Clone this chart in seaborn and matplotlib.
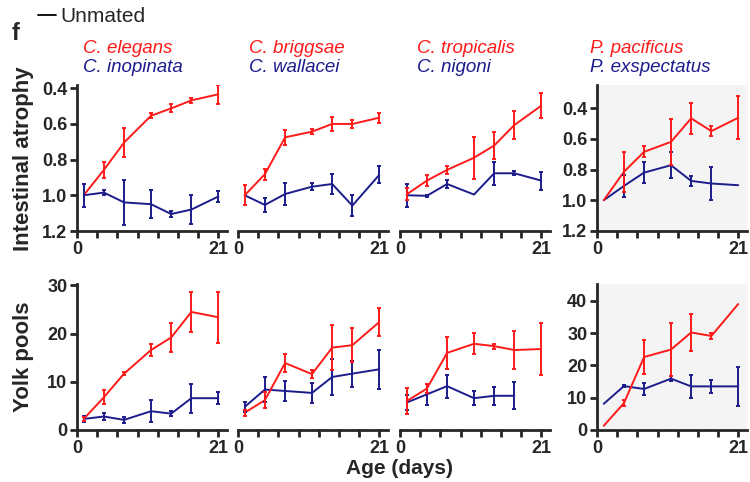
"""Unmated time course: intestinal atrophy and yolk pools, 4 species pairs."""
import numpy as np
import pandas as pd

import matplotlib
matplotlib.use("Agg")
import matplotlib.pyplot as plt
import seaborn as sns

RED = "#ff1a1a"
BLUE = "#1c1c8c"

days = [1, 4, 7, 11, 14, 17, 21]

# species pairs (red, blue)
sp_red = ["C. elegans", "C. briggsae", "C. tropicalis", "P. pacificus"]
sp_blue = ["C. inopinata", "C. wallacei", "C. nigoni", "P. exspectatus"]

# intestinal atrophy, mean and sem
atr_elegans = [1.0, 0.858, 0.705, 0.555, 0.514, 0.469, 0.435]
atr_elegans_e = [0, 0.045, 0.08, 0.015, 0.022, 0.015, 0.052]
atr_inopinata = [1.0, 0.985, 1.04, 1.05, 1.105, 1.08, 1.007]
atr_inopinata_e = [0.065, 0.015, 0.128, 0.078, 0.015, 0.08, 0.031]
atr_briggsae = [1.0, 0.882, 0.676, 0.644, 0.601, 0.601, 0.566]
atr_briggsae_e = [0.056, 0.03, 0.042, 0.015, 0.04, 0.02, 0.028]
atr_wallacei = [1.0, 1.054, 0.993, 0.952, 0.937, 1.058, 0.886]
atr_wallacei_e = [0, 0.04, 0.062, 0.02, 0.054, 0.06, 0.048]
atr_tropicalis = [0.995, 0.918, 0.858, 0.79, 0.722, 0.607, 0.499]
atr_tropicalis_e = [0.033, 0.031, 0.022, 0.118, 0.075, 0.077, 0.071]
atr_nigoni = [1.0, 1.003, 0.937, 0.996, 0.877, 0.877, 0.918]
atr_nigoni_e = [0.065, 0.007, 0.02, 0, 0.065, 0.01, 0.05]
atr_pacificus = [1.0, 0.815, 0.685, 0.62, 0.467, 0.55, 0.463]
atr_pacificus_e = [0, 0.13, 0.035, 0.15, 0.1, 0.034, 0.139]
atr_exspectatus = [1.0, 0.907, 0.82, 0.772, 0.874, 0.891, 0.902]
atr_exspectatus_e = [0, 0.074, 0.067, 0.085, 0.034, 0.11, 0]

# yolk pools, mean and sem
yp_elegans = [2.3, 6.8, 11.7, 16.6, 19.2, 24.5, 23.4]
yp_elegans_e = [0.5, 1.5, 0.3, 1.2, 3.0, 4.2, 5.3]
yp_inopinata = [2.3, 2.8, 2.1, 3.9, 3.4, 6.6, 6.6]
yp_inopinata_e = [0.6, 0.8, 0.7, 2.3, 0.5, 3.0, 1.2]
yp_briggsae = [3.6, 6.2, 13.9, 11.6, 17.1, 17.6, 22.4]
yp_briggsae_e = [0.6, 1.7, 1.9, 0.9, 4.6, 3.5, 2.9]
yp_wallacei = [4.8, 8.4, 8.1, 7.7, 11.0, 11.7, 12.6]
yp_wallacei_e = [1.0, 2.5, 2.1, 2.1, 3.7, 2.7, 4.0]
yp_tropicalis = [6.0, 8.6, 16.0, 17.9, 17.4, 16.6, 16.8]
yp_tropicalis_e = [2.7, 1.0, 3.3, 2.2, 0.5, 4.0, 5.4]
yp_nigoni = [5.7, 7.4, 9.1, 6.6, 7.1, 7.1, np.nan]
yp_nigoni_e = [1.5, 2.2, 2.4, 1.4, 1.9, 2.8, 0]
yp_pacificus = [1.3, 8.3, 22.6, 24.9, 30.2, 29.1, 39.0]
yp_pacificus_e = [0, 1.0, 5.2, 8.2, 5.8, 0.8, 0]
yp_exspectatus = [8.1, 13.6, 12.7, 15.9, 13.5, 13.5, 13.5]
yp_exspectatus_e = [0, 0.4, 2.0, 0.8, 3.6, 2.0, 6.0]

atr_ticks = [0.4, 0.6, 0.8, 1.0, 1.2]
yp_ticks = [0, 10, 20, 30]
yp_ticks_pp = [0, 10, 20, 30, 40]

top_rows = [
    (atr_elegans, atr_elegans_e, atr_inopinata, atr_inopinata_e),
    (atr_briggsae, atr_briggsae_e, atr_wallacei, atr_wallacei_e),
    (atr_tropicalis, atr_tropicalis_e, atr_nigoni, atr_nigoni_e),
    (atr_pacificus, atr_pacificus_e, atr_exspectatus, atr_exspectatus_e),
]
bot_rows = [
    (yp_elegans, yp_elegans_e, yp_inopinata, yp_inopinata_e),
    (yp_briggsae, yp_briggsae_e, yp_wallacei, yp_wallacei_e),
    (yp_tropicalis, yp_tropicalis_e, yp_nigoni, yp_nigoni_e),
    (yp_pacificus, yp_pacificus_e, yp_exspectatus, yp_exspectatus_e),
]

sns.set_style("ticks")
plt.rcParams["font.family"] = ["Liberation Sans", "DejaVu Sans"]
plt.rcParams["axes.linewidth"] = 2

W, H = 750, 482
fig = plt.figure(figsize=(W / 100, H / 100), dpi=100)


def px_axes(left, top, w, h):
    return fig.add_axes([left / W, (H - top - h) / H, w / W, h / H])


def draw(ax, red, red_e, blue, blue_e):
    df = pd.DataFrame({
        "day": days * 2,
        "val": list(blue) + list(red),
        "sp": ["b"] * len(days) + ["r"] * len(days),
    })
    sns.lineplot(data=df, x="day", y="val", hue="sp",
                 palette={"r": RED, "b": BLUE}, legend=False,
                 errorbar=None, linewidth=1.4, ax=ax)
    for m, e, c in [(blue, blue_e, BLUE), (red, red_e, RED)]:
        m = np.asarray(m, float)
        e = np.asarray(e, float)
        ok = (e > 0) & ~np.isnan(m)
        ax.errorbar(np.array(days)[ok], m[ok], yerr=e[ok], fmt="none",
                    ecolor=c, elinewidth=1.4, capsize=1.6, capthick=1.4)
    ax.set_xlabel("")
    ax.set_ylabel("")


lefts = [77, 238, 400, 597]
for i in range(4):
    for row, top in [(top_rows, 85), (bot_rows, 284)]:
        ax = px_axes(lefts[i], top, 150, 146)
        draw(ax, *row[i])
        sns.despine(ax=ax)
        ax.set_xlim(0, 22.3)
        ax.set_xticks([0, 21])
        ax.set_xticklabels(["0", "21"])
        ax.set_xticks([3, 6, 9, 12, 15, 18], minor=True)
        ax.tick_params(axis="both", which="both", direction="out",
                       length=5, width=2, pad=2, labelsize=13)
        for t in ax.get_xticklabels() + ax.get_yticklabels():
            t.set_fontweight("bold")
        if top == 85:
            ax.set_ylim(1.2, 0.25 if i == 3 else 0.383)
            ax.set_yticks(atr_ticks)
            ax.set_yticklabels([f"{v:.1f}" for v in atr_ticks],
                               fontweight="bold")
        else:
            if i == 3:
                ax.set_ylim(0, 45.2)
                ax.set_yticks(yp_ticks_pp)
                ax.set_yticklabels([str(v) for v in yp_ticks_pp],
                                   fontweight="bold")
            else:
                ax.set_ylim(0, 30.3)
                ax.set_yticks(yp_ticks)
                ax.set_yticklabels([str(v) for v in yp_ticks],
                                   fontweight="bold")
        if i in (1, 2):
            ax.spines["left"].set_visible(False)
            ax.tick_params(axis="y", left=False, labelleft=False)
        if i == 3:
            ax.set_facecolor("#f4f4f4")
        else:
            ax.set_facecolor("none")

# species names above the panels
name_x = [83, 249, 417, 590]
for i in range(4):
    fig.text(name_x[i] / W, 1 - 53 / H, sp_red[i], color=RED,
             fontsize=13.5, style="italic", va="baseline")
    fig.text(name_x[i] / W, 1 - 72 / H, sp_blue[i], color=BLUE,
             fontsize=13.5, style="italic", va="baseline")

fig.text(24 / W, 1 - 159 / H, "Intestinal atrophy", rotation=90,
         fontsize=16, fontweight="bold", ha="center", va="center")
fig.text(24 / W, 1 - 357 / H, "Yolk pools", rotation=90,
         fontsize=16, fontweight="bold", ha="center", va="center")
fig.text(400 / W, 1 - 468 / H, "Age (days)", fontsize=15,
         fontweight="bold", ha="center", va="center")
fig.text(16 / W, 1 - 33 / H, "f", fontsize=17, fontweight="bold",
         ha="center", va="center")
fig.add_artist(plt.Line2D([38 / W, 56 / W], [1 - 15 / H, 1 - 15 / H],
                          color="black", linewidth=1.3))
fig.text(60 / W, 1 - 16 / H, "Unmated", fontsize=15, va="center")

fig.savefig("out.png", dpi=100)
